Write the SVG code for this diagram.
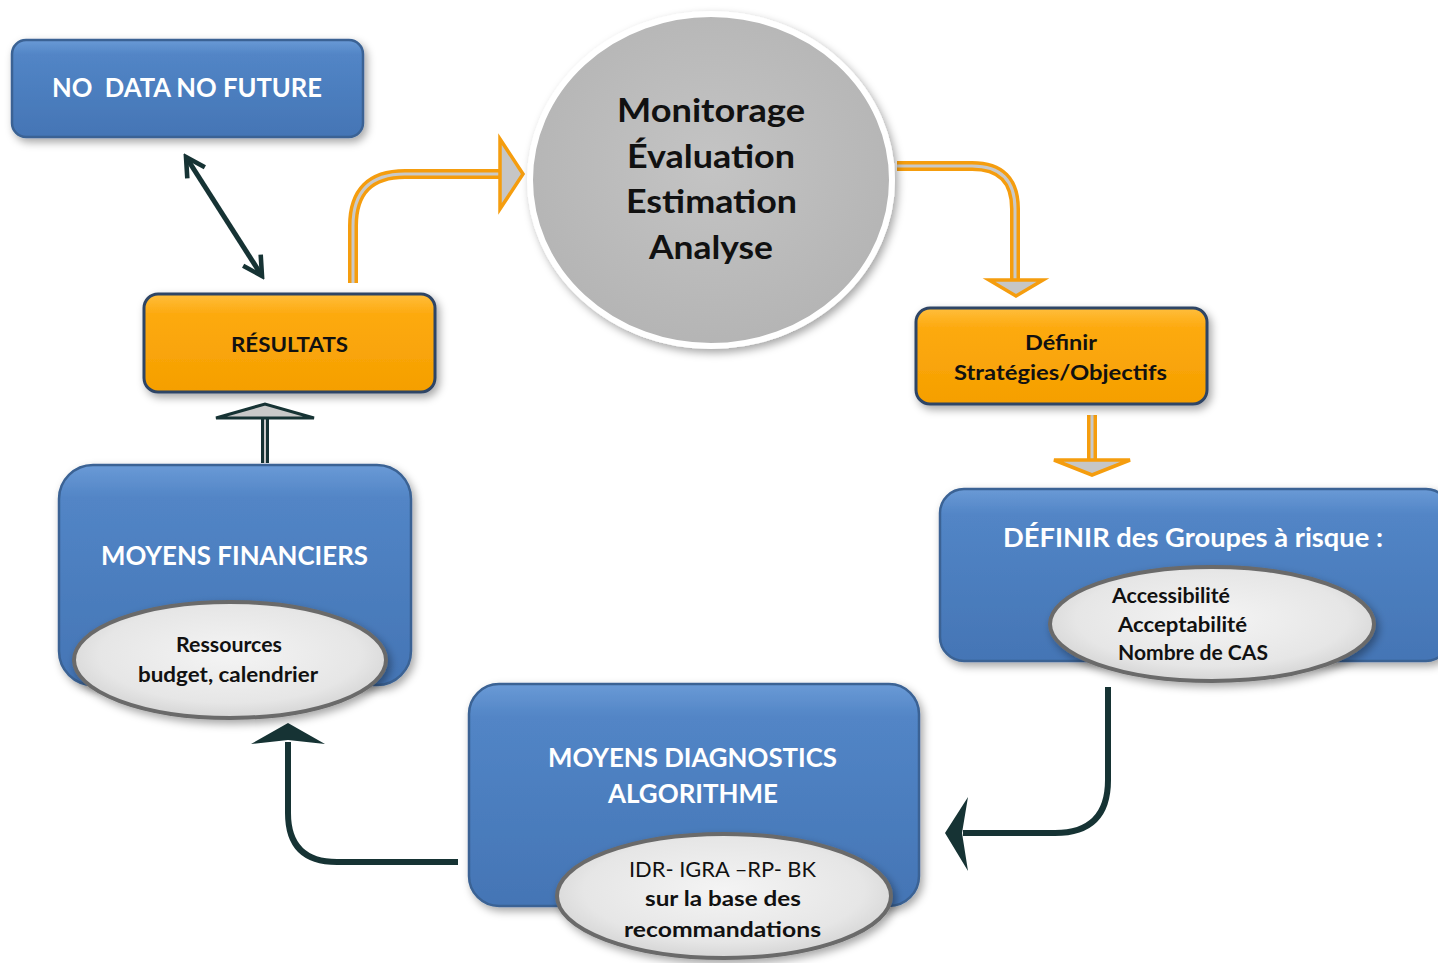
<svg xmlns="http://www.w3.org/2000/svg" width="1438" height="963" viewBox="0 0 1438 963">
<defs>
  <style>
    .t{font-family:Lato,"Liberation Sans",sans-serif;font-weight:bold;}
    .w{fill:#ffffff;font-size:27px;}
    .k{fill:#111111;font-size:20px;}
    .blue{fill:url(#gBlue);stroke:#3a6294;stroke-width:2.5;filter:url(#sh);}
    .orange{fill:url(#gOrange);stroke:#2f4565;stroke-width:3;filter:url(#sh);}
    .ell{fill:url(#gEll);stroke:#6a6a6a;stroke-width:4;filter:url(#sh);}
    .oS{fill:none;stroke:#f59d0e;stroke-width:10;}
    .oI{fill:none;stroke:#c9c9c9;stroke-width:3;}
    .oH{fill:#c6c6c6;stroke:#f59d0e;stroke-width:3.5;stroke-linejoin:miter;}
    .dS{fill:none;stroke:#163334;stroke-width:6;}
    .dH{fill:#163334;stroke:none;}
  </style>
  <linearGradient id="gBlue" x1="0" y1="0" x2="0" y2="1">
    <stop offset="0" stop-color="#6a9ad6"/>
    <stop offset="0.15" stop-color="#5285c6"/>
    <stop offset="1" stop-color="#4475b5"/>
  </linearGradient>
  <linearGradient id="gOrange" x1="0" y1="0" x2="0" y2="1">
    <stop offset="0" stop-color="#ffbe3c"/>
    <stop offset="0.2" stop-color="#fdaa10"/>
    <stop offset="1" stop-color="#f59f00"/>
  </linearGradient>
  <radialGradient id="gEll" cx="0.5" cy="0.45" r="0.6">
    <stop offset="0" stop-color="#f4f4f4"/>
    <stop offset="0.7" stop-color="#e6e6e6"/>
    <stop offset="1" stop-color="#cfcfcf"/>
  </radialGradient>
  <radialGradient id="gCirc" cx="0.5" cy="0.45" r="0.6">
    <stop offset="0" stop-color="#c4c4c4"/>
    <stop offset="1" stop-color="#b3b3b3"/>
  </radialGradient>
  <filter id="sh" x="-20%" y="-20%" width="140%" height="150%">
    <feDropShadow dx="3" dy="4" stdDeviation="4" flood-color="#000" flood-opacity="0.35"/>
  </filter>
  <marker id="chev" viewBox="0 0 12 12" refX="10" refY="6" markerWidth="5" markerHeight="5" orient="auto-start-reverse" markerUnits="strokeWidth">
    <path d="M1 1 L10 6 L1 11" fill="none" stroke="#163334" stroke-width="2.2"/>
  </marker>
</defs>
<rect width="1438" height="963" fill="#ffffff"/>

<g id="connectors">
  <line x1="186" y1="157" x2="262" y2="276" stroke="#163334" stroke-width="5" marker-start="url(#chev)" marker-end="url(#chev)"/>
  <path class="oS" d="M353 283 L353 226 Q353 174 405 174 L500 174"/>
  <path class="oI" d="M353 283 L353 226 Q353 174 405 174 L500 174"/>
  <polygon class="oH" points="500,139 523,174 500,209"/>
  <path class="oS" d="M897 166 L972 166 Q1015 166 1015 209 L1015 280"/>
  <path class="oI" d="M897 166 L972 166 Q1015 166 1015 209 L1015 280"/>
  <polygon class="oH" points="989,280 1043,280 1016,296"/>
  <path class="oS" d="M1092 415 L1092 460"/>
  <path class="oI" d="M1092 415 L1092 460"/>
  <polygon class="oH" points="1054,460 1130,460 1092,475"/>
  <path class="dS" d="M1108 687 L1108 780 Q1108 833 1055 833 L963 833"/>
  <polygon class="dH" points="945,833 968,797 962,833 968,871"/>
  <path class="dS" d="M458 862 L337 862 Q288 862 288 813 L288 742"/>
  <polygon class="dH" points="288,723 251,744 288,740 325,744"/>
  <path d="M265 463 L265 417" fill="none" stroke="#163334" stroke-width="8"/>
  <path d="M265 463 L265 417" fill="none" stroke="#c9c9c9" stroke-width="2"/>
  <polygon points="216,418 265,404 314,418" fill="#c9c9c9" stroke="#163334" stroke-width="3" stroke-linejoin="miter"/>
</g>

<g id="node-nodata">
  <rect class="blue" x="12" y="40" width="351" height="97" rx="14"/>
  <text class="t w" x="52" y="97" textLength="270" lengthAdjust="spacingAndGlyphs" xml:space="preserve" style="white-space:pre">NO  DATA NO FUTURE</text>
</g>

<g id="node-resultats">
  <rect class="orange" x="144" y="294" width="291" height="98" rx="14"/>
  <text class="t k" x="231" y="352" textLength="117" lengthAdjust="spacingAndGlyphs">RÉSULTATS</text>
</g>

<g id="node-monitorage">
  <ellipse cx="711" cy="180" rx="181" ry="166" fill="url(#gCirc)" stroke="#ffffff" stroke-width="6" filter="url(#sh)"/>
  <text class="t" font-size="33" fill="#111" x="617" y="122" textLength="188" lengthAdjust="spacingAndGlyphs">Monitorage</text>
  <text class="t" font-size="33" fill="#111" x="627" y="168" textLength="168" lengthAdjust="spacingAndGlyphs">Évaluation</text>
  <text class="t" font-size="33" fill="#111" x="626" y="213" textLength="171" lengthAdjust="spacingAndGlyphs">Estimation</text>
  <text class="t" font-size="33" fill="#111" x="649" y="259" textLength="124" lengthAdjust="spacingAndGlyphs">Analyse</text>
</g>

<g id="node-definir">
  <rect class="orange" x="916" y="308" width="291" height="96" rx="14"/>
  <text class="t k" x="1025" y="350" textLength="72" lengthAdjust="spacingAndGlyphs">Définir</text>
  <text class="t k" x="954" y="380" textLength="213" lengthAdjust="spacingAndGlyphs">Stratégies/Objectifs</text>
</g>

<g id="node-groupes">
  <rect class="blue" x="940" y="489" width="510" height="172" rx="24"/>
  <text class="t w" x="1003" y="547" textLength="380" lengthAdjust="spacingAndGlyphs">DÉFINIR des Groupes à risque :</text>
  <ellipse class="ell" cx="1212" cy="624" rx="162" ry="57"/>
  <text class="t k" x="1112" y="603" textLength="118" lengthAdjust="spacingAndGlyphs">Accessibilité</text>
  <text class="t k" x="1118" y="632" textLength="129" lengthAdjust="spacingAndGlyphs">Acceptabilité</text>
  <text class="t k" x="1118" y="660" textLength="150" lengthAdjust="spacingAndGlyphs">Nombre de CAS</text>
</g>

<g id="node-diagnostics">
  <rect class="blue" x="469" y="684" width="450" height="222" rx="30"/>
  <text class="t w" x="548" y="767" textLength="289" lengthAdjust="spacingAndGlyphs">MOYENS DIAGNOSTICS</text>
  <text class="t w" x="608" y="803" textLength="170" lengthAdjust="spacingAndGlyphs">ALGORITHME</text>
  <ellipse class="ell" cx="724" cy="896" rx="167" ry="62"/>
  <text x="629" y="877" font-family="Lato,'Liberation Sans',sans-serif" font-size="21" fill="#111" textLength="187" lengthAdjust="spacingAndGlyphs">IDR- IGRA –RP- BK</text>
  <text class="t k" x="645" y="906" textLength="156" lengthAdjust="spacingAndGlyphs">sur la base des</text>
  <text class="t k" x="624" y="937" textLength="197" lengthAdjust="spacingAndGlyphs">recommandations</text>
</g>

<g id="node-financiers">
  <rect class="blue" x="59" y="465" width="352" height="220" rx="34"/>
  <text class="t w" x="101" y="565" textLength="267" lengthAdjust="spacingAndGlyphs">MOYENS FINANCIERS</text>
  <ellipse class="ell" cx="230" cy="660" rx="156" ry="58"/>
  <text class="t k" x="176" y="652" textLength="106" lengthAdjust="spacingAndGlyphs">Ressources</text>
  <text class="t k" x="138" y="682" textLength="180" lengthAdjust="spacingAndGlyphs">budget, calendrier</text>
</g>
</svg>
